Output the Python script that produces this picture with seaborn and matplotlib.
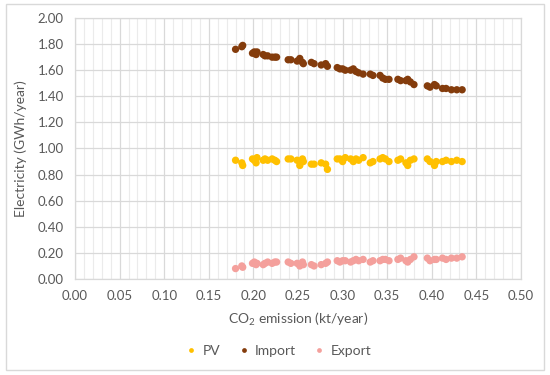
import pandas as pd
import numpy as np
import matplotlib
matplotlib.use("Agg")
import matplotlib.pyplot as plt
import seaborn as sns
from matplotlib.patches import Rectangle
from matplotlib.ticker import MultipleLocator, FormatStrFormatter

# data (CO2 emission in kt/year, electricity in GWh/year)
co2 = [0.180, 0.187, 0.188, 0.199, 0.201, 0.203, 0.204, 0.211, 0.213, 0.216,
       0.221, 0.224, 0.226, 0.239, 0.242, 0.249, 0.252, 0.255, 0.256, 0.265,
       0.268, 0.276, 0.281, 0.283, 0.294, 0.297, 0.300, 0.303, 0.309, 0.312,
       0.315, 0.318, 0.323, 0.331, 0.334, 0.342, 0.345, 0.348, 0.352, 0.362,
       0.365, 0.371, 0.373, 0.376, 0.380, 0.395, 0.398, 0.403, 0.405, 0.412,
       0.416, 0.422, 0.428, 0.434]

pv = [0.91, 0.89, 0.87, 0.92, 0.91, 0.89, 0.93, 0.91, 0.92, 0.91,
      0.92, 0.91, 0.90, 0.92, 0.92, 0.91, 0.87, 0.92, 0.90, 0.88,
      0.88, 0.89, 0.88, 0.84, 0.92, 0.92, 0.90, 0.93, 0.92, 0.90,
      0.92, 0.91, 0.93, 0.89, 0.90, 0.92, 0.93, 0.92, 0.90, 0.91,
      0.92, 0.89, 0.87, 0.91, 0.92, 0.92, 0.90, 0.87, 0.90, 0.90,
      0.91, 0.90, 0.91, 0.90]

imp = [1.76, 1.78, 1.79, 1.73, 1.74, 1.72, 1.74, 1.72, 1.71, 1.71,
       1.70, 1.70, 1.70, 1.68, 1.68, 1.67, 1.69, 1.66, 1.65, 1.66,
       1.65, 1.64, 1.65, 1.63, 1.62, 1.61, 1.61, 1.60, 1.60, 1.61,
       1.59, 1.58, 1.57, 1.57, 1.56, 1.56, 1.54, 1.53, 1.53, 1.53,
       1.52, 1.52, 1.53, 1.51, 1.49, 1.48, 1.47, 1.49, 1.48, 1.46,
       1.46, 1.45, 1.45, 1.45]

exp = [0.08, 0.10, 0.09, 0.12, 0.13, 0.11, 0.12, 0.11, 0.12, 0.13,
       0.12, 0.13, 0.13, 0.13, 0.12, 0.12, 0.10, 0.13, 0.11, 0.11,
       0.10, 0.11, 0.12, 0.13, 0.14, 0.13, 0.14, 0.14, 0.13, 0.14,
       0.15, 0.14, 0.15, 0.13, 0.14, 0.14, 0.15, 0.15, 0.14, 0.15,
       0.16, 0.14, 0.13, 0.15, 0.17, 0.16, 0.14, 0.15, 0.15, 0.16,
       0.15, 0.16, 0.16, 0.17]

series = ["PV", "Import", "Export"]
colors = ["#FFC000", "#843C0C", "#F4A09C"]

df = pd.DataFrame({
    "co2": co2 * 3,
    "value": pv + imp + exp,
    "series": ["PV"] * len(co2) + ["Import"] * len(co2) + ["Export"] * len(co2),
})

sns.set_style("white")
plt.rcParams["font.family"] = ["Lato", "DejaVu Sans"]
plt.rcParams["mathtext.default"] = "regular"

fig = plt.figure(figsize=(5.5, 3.75), dpi=100)
ax = fig.add_axes([75 / 550, 1 - 279 / 375, 446 / 550, 261 / 375])

sns.scatterplot(data=df, x="co2", y="value", hue="series", hue_order=series,
                palette=colors, s=28, linewidth=0, ax=ax, zorder=3)

ax.set_xlim(0, 0.5)
ax.set_ylim(0, 2.0)
ax.xaxis.set_major_locator(MultipleLocator(0.05))
ax.xaxis.set_minor_locator(MultipleLocator(0.01))
ax.yaxis.set_major_locator(MultipleLocator(0.2))
ax.xaxis.set_major_formatter(FormatStrFormatter("%.2f"))
ax.yaxis.set_major_formatter(FormatStrFormatter("%.2f"))
ax.grid(which="major", color="#D9D9D9", linewidth=0.9)
ax.grid(which="minor", axis="x", color="#EBEBEB", linewidth=0.8)
ax.set_axisbelow(True)
for s in ax.spines.values():
    s.set_color("#D9D9D9")
    s.set_linewidth(0.9)
ax.tick_params(which="both", length=0, labelsize=9.5, labelcolor="#595959", pad=8)

ax.set_xlabel("CO$_{2}$ emission (kt/year)", fontsize=10, color="#595959", labelpad=6)
ax.set_ylabel("Electricity (GWh/year)", fontsize=10, color="#595959", labelpad=8)

handles, labels = ax.get_legend_handles_labels()
ax.legend_.remove()
fig.legend(handles, labels, loc="center", bbox_to_anchor=(0.505, 1 - 351 / 375),
           ncol=3, frameon=False, fontsize=10, labelcolor="#595959",
           handlelength=1.0, handletextpad=0.3, columnspacing=1.2, markerscale=0.65)

# chart area border
fig.patches.append(Rectangle((6 / 550, 5 / 375), 538 / 550, 366 / 375,
                             transform=fig.transFigure, fill=False,
                             edgecolor="#D9D9D9", linewidth=1))

fig.savefig("out.png", dpi=100)
